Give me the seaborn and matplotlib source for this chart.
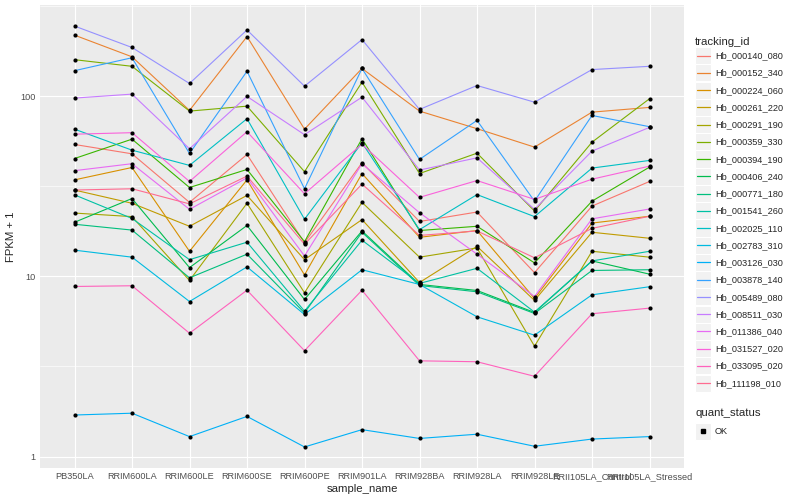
import numpy as np
import pandas as pd
import matplotlib
matplotlib.use("Agg")
import matplotlib.pyplot as plt
import seaborn as sns
from matplotlib.lines import Line2D
from matplotlib.patches import Rectangle
from matplotlib.legend_handler import HandlerBase
from matplotlib.ticker import FixedLocator, FuncFormatter, NullFormatter

# ── Data (FPKM + 1) ─────────────────────────────────────────
samples = ["PB350LA", "RRIM600LA", "RRIM600LE", "RRIM600SE", "RRIM600PE",
           "RRIM901LA", "RRIM928BA", "RRIM928LA", "RRIM928LE",
           "RRII105LA_Control", "RRII105LA_Stressed"]

hb_000140_080 = [54.1, 48.0, 25.8, 47.6, 15.4, 42.8, 20.2, 22.8, 10.5, 24.6, 33.7]
hb_000152_340 = [219, 166, 83.6, 215, 65.8, 143, 82.9, 66.2, 52.3, 81.8, 86.9]
hb_000224_060 = [34.4, 40.3, 13.8, 34.4, 10.2, 37.3, 16.5, 18.0, 7.55, 19.8, 21.6]
hb_000261_220 = [30.2, 25.5, 19.0, 28.2, 12.4, 20.7, 9.26, 14.7, 7.36, 17.6, 16.3]
hb_000291_190 = [22.5, 21.5, 9.5, 25.5, 8.12, 25.8, 12.8, 14.4, 4.10, 13.8, 12.8]
hb_000359_330 = [160, 147, 82.9, 88.3, 38.2, 120, 37.3, 48.4, 23.1, 55.7, 97.1]
hb_000394_190 = [45.2, 57.9, 31.2, 39.3, 15.6, 58.2, 18.0, 19.0, 11.9, 26.2, 40.5]
hb_000406_240 = [20.0, 27.1, 11.2, 19.2, 7.45, 17.9, 9.03, 8.36, 6.31, 12.2, 10.3]
hb_000771_180 = [19.5, 18.1, 9.83, 13.3, 6.28, 17.6, 8.91, 8.22, 6.23, 10.8, 10.9]
hb_001541_260 = [28.4, 21.0, 12.4, 15.5, 6.42, 15.9, 9.15, 11.1, 6.34, 12.2, 13.8]
hb_002025_110 = [65.8, 50.3, 41.4, 75.2, 20.8, 55.3, 18.2, 28.5, 21.5, 40.0, 44.1]
hb_002783_310 = [14.0, 12.8, 7.26, 11.3, 6.15, 10.9, 9.03, 5.97, 4.72, 7.91, 8.77]
hb_003126_030 = [1.70, 1.74, 1.29, 1.67, 1.13, 1.41, 1.26, 1.33, 1.14, 1.25, 1.29]
hb_003878_140 = [139, 164, 48.2, 138, 30.7, 143, 44.7, 73.6, 26.2, 78.4, 67.9]
hb_005489_080 = [246, 187, 118, 234, 114, 207, 84.7, 115, 92.9, 141, 147]
hb_008511_030 = [97.9, 103, 51.2, 100, 61.3, 99.1, 39.0, 45.6, 23.6, 49.7, 67.3]
hb_011386_040 = [38.7, 42.3, 23.6, 35.3, 13.0, 42.3, 22.6, 13.3, 7.74, 20.9, 23.7]
hb_031527_020 = [61.7, 62.9, 33.7, 63.7, 28.8, 54.3, 27.5, 34.1, 26.8, 34.7, 41.0]
hb_033095_020 = [8.80, 8.88, 4.84, 8.39, 3.87, 8.39, 3.40, 3.36, 2.79, 6.21, 6.67]
hb_111198_010 = [30.2, 30.7, 25.3, 36.1, 15.1, 32.6, 16.9, 17.9, 12.7, 18.5, 21.6]

gene_ids = ["Hb_000140_080", "Hb_000152_340", "Hb_000224_060", "Hb_000261_220",
            "Hb_000291_190", "Hb_000359_330", "Hb_000394_190", "Hb_000406_240",
            "Hb_000771_180", "Hb_001541_260", "Hb_002025_110", "Hb_002783_310",
            "Hb_003126_030", "Hb_003878_140", "Hb_005489_080", "Hb_008511_030",
            "Hb_011386_040", "Hb_031527_020", "Hb_033095_020", "Hb_111198_010"]
series = [hb_000140_080, hb_000152_340, hb_000224_060, hb_000261_220,
          hb_000291_190, hb_000359_330, hb_000394_190, hb_000406_240,
          hb_000771_180, hb_001541_260, hb_002025_110, hb_002783_310,
          hb_003126_030, hb_003878_140, hb_005489_080, hb_008511_030,
          hb_011386_040, hb_031527_020, hb_033095_020, hb_111198_010]

# ggplot2 default hue palette for 20 levels
colors = ["#F8766D", "#EA8331", "#D89000", "#C09B00", "#A3A500", "#7CAE00",
          "#39B600", "#00BB4E", "#00BF7D", "#00C1A3", "#00BFC4", "#00BAE0",
          "#00B0F6", "#35A2FF", "#9590FF", "#C77CFF", "#E76BF3", "#FA62DB",
          "#FF62BC", "#FF6C91"]

rows = []
for gid, vals in zip(gene_ids, series):
    for i, v in enumerate(vals):
        rows.append({"tracking_id": gid, "pos": i, "sample_name": samples[i],
                     "fpkm1": v, "quant_status": "OK"})
df = pd.DataFrame(rows)


# legend key like ggplot: grey box with the glyph centred in it
class KeyHandler(HandlerBase):
    def create_artists(self, legend, orig_handle, xdescent, ydescent,
                       width, height, fontsize, trans):
        x0, y0 = -xdescent, -ydescent
        yc = y0 + height / 2
        bg = Rectangle((x0, y0), width, height, facecolor="#F2F2F2",
                       edgecolor="white", linewidth=0.8, transform=trans)
        if orig_handle.get_marker() not in (None, "None", ""):
            mk = Line2D([x0 + width / 2], [yc], color="black", marker="s",
                        markersize=2.2, linestyle="none", transform=trans)
        else:
            mk = Line2D([x0 + 1, x0 + width - 1], [yc, yc],
                        color=orig_handle.get_color(), linewidth=0.9,
                        transform=trans)
        return [bg, mk]


# ── Style (ggplot grey look) ─────────────────────────────────
sns.set_theme(style="darkgrid", rc={
    "axes.facecolor": "#EBEBEB",
    "grid.color": "white",
    "axes.edgecolor": "#EBEBEB",
})
plt.rcParams["font.family"] = ["Liberation Sans", "DejaVu Sans"]

fig = plt.figure(figsize=(8, 5), dpi=100)
ax = fig.add_axes([0.05, 0.064, 0.805, 0.926])

sns.lineplot(data=df, x="pos", y="fpkm1", hue="tracking_id", hue_order=gene_ids,
             palette=colors, estimator=None, linewidth=0.8, legend=False, ax=ax)
sns.scatterplot(data=df, x="pos", y="fpkm1", color="black", s=9, linewidth=0,
                legend=False, ax=ax, zorder=5)

ax.set_yscale("log")
lo, hi = np.log10(df["fpkm1"].min()), np.log10(df["fpkm1"].max())
pad = 0.05 * (hi - lo)
ax.set_ylim(10 ** (lo - pad), 10 ** (hi + pad))
ax.set_xlim(-0.6, len(samples) - 0.4)

ax.yaxis.set_major_locator(FixedLocator([1, 10, 100]))
ax.yaxis.set_major_formatter(FuncFormatter(lambda v, p: f"{v:g}"))
ax.yaxis.set_minor_locator(FixedLocator([10 ** 0.5, 10 ** 1.5, 10 ** 2.5]))
ax.yaxis.set_minor_formatter(NullFormatter())
ax.set_xticks(range(len(samples)))
ax.set_xticklabels(samples)

ax.grid(which="major", color="white", linewidth=0.85)
ax.grid(which="minor", axis="y", color="white", linewidth=0.45)
ax.tick_params(axis="both", which="major", length=2.2, width=0.6, color="#333333",
               labelsize=6.6, labelcolor="#4D4D4D", pad=1)
ax.tick_params(axis="both", which="minor", length=0)
for s in ax.spines.values():
    s.set_visible(False)

ax.set_xlabel("sample_name", fontsize=8.2, labelpad=2)
ax.set_ylabel("FPKM + 1", fontsize=8.2, labelpad=3)

# ── Legends ──────────────────────────────────────────────────
handles = [Line2D([], [], color=c) for c in colors]
leg1 = fig.legend(handles, gene_ids, title="tracking_id", loc="upper left",
                  bbox_to_anchor=(0.869, 0.926), frameon=False, fontsize=6.6,
                  title_fontsize=8.2, handlelength=1.75, handleheight=2.5,
                  handletextpad=0.4, labelspacing=0.01, borderpad=0,
                  borderaxespad=0, alignment="left",
                  handler_map={Line2D: KeyHandler()})

ok_handle = [Line2D([], [], color="black", marker="s", linestyle="none")]
leg2 = fig.legend(ok_handle, ["OK"], title="quant_status", loc="upper left",
                  bbox_to_anchor=(0.869, 0.184), frameon=False, fontsize=6.6,
                  title_fontsize=8.2, handlelength=1.75, handleheight=2.5,
                  handletextpad=0.4, borderpad=0, borderaxespad=0,
                  alignment="left", handler_map={Line2D: KeyHandler()})

fig.savefig("out.png", dpi=100)
